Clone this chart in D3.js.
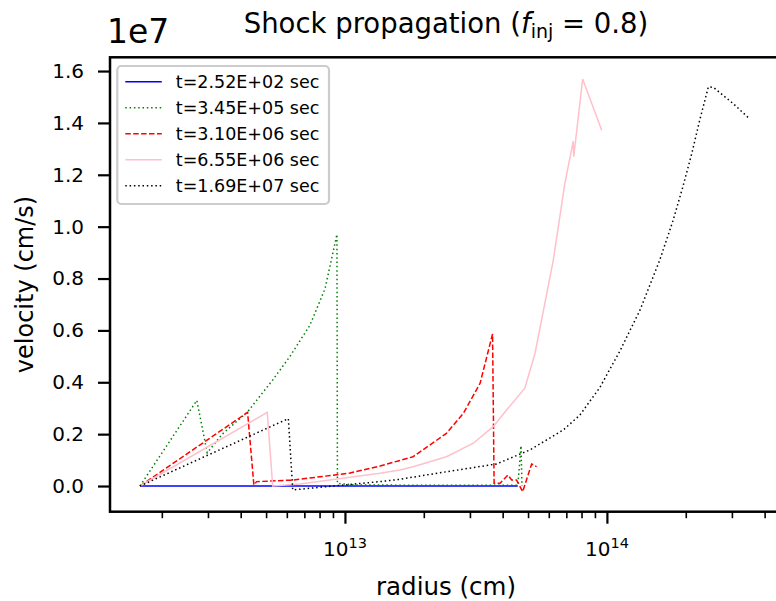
<!DOCTYPE html>
<html>
<head>
<meta charset="utf-8">
<script src="https://cdn.jsdelivr.net/npm/d3@7"></script>
<style>
  html, body { margin: 0; padding: 0; background: #fff; }
  text { font-family: "DejaVu Sans", sans-serif; fill: #000; }
</style>
</head>
<body>
<div id="chart"></div>
<script>
// shock propagation profiles, velocity vs radius (log x)
const LABELS = ["t=2.52E+02 sec", "t=3.45E+05 sec", "t=3.10E+06 sec", "t=6.55E+06 sec", "t=1.69E+07 sec"];

const R_252 = [1.65e12, 3e12, 6e12, 1e13, 2e13, 3.5e13, 4.57e13];
const V_252 = [0, 0, 0, 0, 0, 0, 0];

const R_345 = [1.65e12, 2.72e12, 2.98e12, 3.4e12, 4.25e12, 5.31e12, 6.17e12, 7.35e12, 8.39e12, 9.32e12, 9.36e12, 1.1e13, 2e13, 4.57e13, 4.70e13, 4.74e13];
const V_345 = [0, 3.3e6, 1.28e6, 2.0e6, 2.86e6, 4.1e6, 5.0e6, 6.2e6, 7.6e6, 9.7e6, 1e5, 4e4, 3e4, 3e4, 1.55e6, 0];

const R_310 = [1.65e12, 4.25e12, 4.49e12, 4.60e12, 6.35e12, 1.045e13, 1.36e13, 1.82e13, 2.44e13, 2.83e13, 3.28e13, 3.66e13, 3.71e13, 3.91e13, 4.19e13, 4.33e13, 4.52e13, 4.77e13, 5.16e13, 5.39e13];
const V_310 = [0, 2.84e6, 4e4, 1.7e5, 2.3e5, 5.0e5, 7.7e5, 1.13e6, 2.03e6, 2.8e6, 3.96e6, 5.86e6, 1.1e5, 1.1e5, 4.2e5, 2.3e5, 2.3e5, -2.2e5, 8.5e5, 7.5e5];

const R_655 = [1.65e12, 5.05e12, 5.30e12, 6.73e12, 1.36e13, 1.62e13, 1.82e13, 2.44e13, 3.09e13, 3.68e13, 4.14e13, 4.86e13, 5.31e13, 5.63e13, 6.24e13, 6.91e13, 7.44e13, 7.47e13, 7.55e13, 8.08e13, 9.55e13];
const V_655 = [0, 2.84e6, 0, 8e4, 4.9e5, 6.2e5, 7.4e5, 1.13e6, 1.65e6, 2.29e6, 2.93e6, 3.77e6, 5.1e6, 6.4e6, 8.7e6, 1.167e7, 1.33e7, 1.27e7, 1.31e7, 1.569e7, 1.372e7];

const R_169 = [1.65e12, 6.08e12, 6.32e12, 9.0e12, 1.36e13, 1.62e13, 2.44e13, 3.79e13, 5.08e13, 6.81e13, 7.89e13, 9.40e13, 1.12e14, 1.34e14, 1.59e14, 1.79e14, 1.95e14, 2.11e14, 2.26e14, 2.44e14, 2.55e14, 3.03e14, 3.46e14];
const V_169 = [0, 2.6e6, -1.5e5, 0, 1.7e5, 2.6e5, 5.5e5, 8.5e5, 1.39e6, 2.16e6, 2.74e6, 3.8e6, 5.2e6, 6.8e6, 8.7e6, 1.025e7, 1.154e7, 1.283e7, 1.41e7, 1.539e7, 1.537e7, 1.475e7, 1.421e7];

const Y_TICKS = [0, 2e6, 4e6, 6e6, 8e6, 1e7, 1.2e7, 1.4e7, 1.6e7];
const X_MAJOR = [1e13, 1e14];

const series = [
  { label: LABELS[0], r: R_252, v: V_252, color: "blue", dash: null },
  { label: LABELS[1], r: R_345, v: V_345, color: "green", dash: "1.5,2.8" },
  { label: LABELS[2], r: R_310, v: V_310, color: "red", dash: "5.5,2.4" },
  { label: LABELS[3], r: R_655, v: V_655, color: "pink", dash: null },
  { label: LABELS[4], r: R_169, v: V_169, color: "black", dash: "1.5,2.8" },
];

const width = 776, height = 601;
const margin = { top: 57.3, right: -6, bottom: 89.3, left: 110 };
const innerWidth = width - margin.left - margin.right;
const innerHeight = height - margin.top - margin.bottom;

const svg = d3.select("#chart").append("svg").attr("width", width).attr("height", height);
const g = svg.append("g").attr("transform", `translate(${margin.left},${margin.top})`);

const x = d3.scaleLog().domain([1.268e12, 4.66e14]).range([0, innerWidth]);
const y = d3.scaleLinear().domain([-0.099e7, 1.653e7]).range([innerHeight, 0]);

g.append("clipPath").attr("id", "clip")
  .append("rect").attr("width", innerWidth).attr("height", innerHeight);

// lines
const line = d3.line().x((d) => x(d[0])).y((d) => y(d[1]));
const plot = g.append("g").attr("clip-path", "url(#clip)");
series.forEach((s) => {
  plot.append("path")
    .datum(s.r.map((r, i) => [r, s.v[i]]))
    .attr("fill", "none")
    .attr("stroke", s.color)
    .attr("stroke-width", 1.5)
    .attr("stroke-dasharray", s.dash)
    .attr("d", line);
});

// x axis: log ticks, minor + major
const minor = [];
[1e12, 1e13, 1e14].forEach((dec) => {
  for (let k = 2; k <= 9; k++) {
    const v = k * dec;
    if (v > x.domain()[0] && v < x.domain()[1]) minor.push(v);
  }
});

const xMinor = g.append("g").attr("transform", `translate(0,${innerHeight})`)
  .call(d3.axisBottom(x).tickValues(minor).tickSize(6.5).tickFormat(""));
xMinor.select(".domain").remove();
xMinor.selectAll(".tick text").remove();
xMinor.selectAll(".tick line").attr("stroke", "#000").attr("stroke-width", 1.6);

const xMajor = g.append("g").attr("transform", `translate(0,${innerHeight})`)
  .call(d3.axisBottom(x).tickValues(X_MAJOR).tickSize(12).tickFormat(""));
xMajor.select(".domain").remove();
xMajor.selectAll(".tick text").remove();
xMajor.selectAll(".tick line").attr("stroke", "#000").attr("stroke-width", 2.2);

X_MAJOR.forEach((v) => {
  const t = g.append("text")
    .attr("x", x(v))
    .attr("y", innerHeight + 44.3)
    .attr("text-anchor", "middle")
    .style("font-size", "20px");
  t.append("tspan").text("10");
  t.append("tspan").attr("dy", -8).style("font-size", "14.5px").text(Math.round(Math.log10(v)));
});

// y axis
const yAxis = g.append("g")
  .call(d3.axisLeft(y).tickValues(Y_TICKS).tickSize(12).tickPadding(14)
    .tickFormat((d) => d3.format(".1f")(d / 1e7)));
yAxis.select(".domain").remove();
yAxis.selectAll(".tick line").attr("stroke", "#000").attr("stroke-width", 2.2);
yAxis.selectAll(".tick text")
  .attr("font-family", "DejaVu Sans")
  .style("font-size", "20px")
  .attr("fill", "#000");

// spines
g.append("rect")
  .attr("width", innerWidth).attr("height", innerHeight)
  .attr("fill", "none").attr("stroke", "#000").attr("stroke-width", 2.5);

// offset text, title, axis labels
svg.append("text").attr("x", 107).attr("y", 43).style("font-size", "33px").text("1e7");

const title = svg.append("text")
  .attr("x", margin.left + innerWidth / 2)
  .attr("y", 33)
  .attr("text-anchor", "middle")
  .style("font-size", "27.5px");
title.append("tspan").text("Shock propagation (");
title.append("tspan").style("font-style", "italic").text("f");
title.append("tspan").attr("dy", 5).style("font-size", "19px").text("inj");
title.append("tspan").attr("dy", -5).text(" = 0.8)");

svg.append("text")
  .attr("x", margin.left + innerWidth / 2)
  .attr("y", 595)
  .attr("text-anchor", "middle")
  .style("font-size", "24.5px")
  .text("radius (cm)");

svg.append("text")
  .attr("transform", `translate(33,${margin.top + innerHeight / 2}) rotate(-90)`)
  .attr("text-anchor", "middle")
  .style("font-size", "24px")
  .text("velocity (cm/s)");

// legend
const legend = svg.append("g").attr("transform", "translate(117.3,66)");
legend.append("rect")
  .attr("width", 211.7).attr("height", 138).attr("rx", 4)
  .attr("fill", "#fff").attr("fill-opacity", 0.8)
  .attr("stroke", "#cccccc").attr("stroke-width", 2.2);

series.forEach((s, i) => {
  const row = legend.append("g").attr("transform", `translate(0,${15.7 + i * 26})`);
  row.append("line")
    .attr("x1", 8).attr("x2", 44.5)
    .attr("stroke", s.color).attr("stroke-width", 1.5)
    .attr("stroke-dasharray", s.dash);
  row.append("text")
    .attr("x", 58.5).attr("y", 6.3)
    .style("font-size", "17.5px")
    .text(s.label);
});
</script>
</body>
</html>
